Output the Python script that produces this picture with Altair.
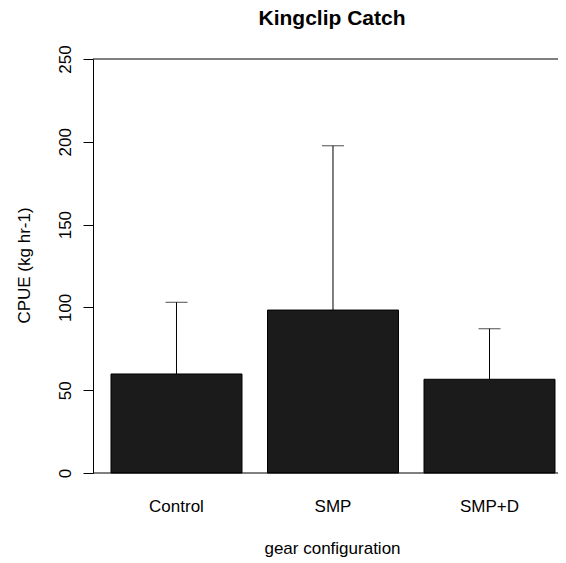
import altair as alt
import pandas as pd

# Data
categories = ["Control", "SMP", "SMP+D"]
cpue_mean = [59.8, 98.4, 56.6]
cpue_sd = [43.3, 99.2, 30.5]
y_ticks = [0, 50, 100, 150, 200, 250]
frame_lines = [0, 250]

df = pd.DataFrame({
    "gear": categories,
    "cpue": cpue_mean,
    "upper": [m + s for m, s in zip(cpue_mean, cpue_sd)],
})
frame_df = pd.DataFrame({"y": frame_lines})

FONT = "Liberation Sans"
W, H = 465, 414

x_enc = alt.X(
    "gear:N",
    sort=categories,
    scale=alt.Scale(paddingInner=0.163, paddingOuter=0.0671, align=0.857),
    axis=alt.Axis(
        title="gear configuration",
        labelAngle=0,
        ticks=False,
        tickSize=0,
        domain=False,
        labelPadding=38,
        labelBaseline="alphabetic",
        labelFontSize=17,
        labelFont=FONT,
        labelColor="black",
        titleFont=FONT,
        titleFontSize=17,
        titleFontWeight="normal",
        titleColor="black",
        titleX=239,
        titleY=80,
        titleAlign="center",
        titleBaseline="alphabetic",
    ),
)

y_scale = alt.Scale(domain=[0, 250], nice=False, zero=True)
y_axis = alt.Axis(
    title="CPUE (kg hr-1)",
    values=y_ticks,
    grid=False,
    domainColor="black",
    domainWidth=1,
    tickColor="black",
    tickWidth=1,
    tickSize=10,
    labelAngle=270,
    labelAlign="center",
    labelBaseline="alphabetic",
    labelPadding=13,
    labelFontSize=17,
    labelFont=FONT,
    labelColor="black",
    labelFlush=False,
    labelOverlap=False,
    titleFont=FONT,
    titleFontSize=17,
    titleFontWeight="normal",
    titleColor="black",
    titleAngle=270,
    titleAlign="center",
    titleBaseline="alphabetic",
    titleX=-64,
    titleY=206,
)

bars = alt.Chart(df).mark_bar(fill="#1b1b1b", stroke="black", strokeWidth=1).encode(
    x=x_enc,
    y=alt.Y("cpue:Q", scale=y_scale, axis=y_axis),
)

err = alt.Chart(df).mark_rule(color="black", strokeWidth=1).encode(
    x=alt.X("gear:N", sort=categories),
    y=alt.Y("cpue:Q"),
    y2="upper:Q",
)

caps = alt.Chart(df).mark_tick(color="black", thickness=1, size=22, orient="horizontal").encode(
    x=alt.X("gear:N", sort=categories),
    y=alt.Y("upper:Q"),
)

frame = alt.Chart(frame_df).mark_rule(color="black", strokeWidth=1).encode(
    y=alt.Y("y:Q"),
)

chart = (
    alt.layer(bars, err, caps, frame)
    .properties(
        width=W,
        height=H,
        title=alt.TitleParams(
            "Kingclip Catch",
            font=FONT,
            fontSize=21,
            fontWeight="bold",
            color="black",
            anchor="middle",
            frame="group",
            offset=-1,
            baseline="alphabetic",
            dx=6.5,
        ),
        autosize=alt.AutoSizeParams(type="none"),
        padding={"left": 85, "top": 51, "right": 0, "bottom": 84},
        background="white",
    )
    .configure_view(stroke=None)
)

chart.save("out.html", embed_options={"renderer": "svg", "actions": False})
